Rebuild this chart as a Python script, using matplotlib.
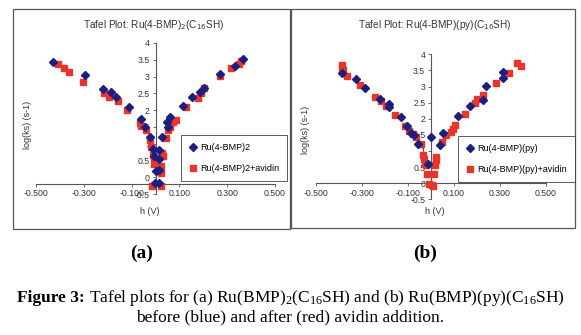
import numpy as np
import matplotlib
matplotlib.use("Agg")
import matplotlib.pyplot as plt
from matplotlib.patches import Rectangle
from matplotlib.lines import Line2D

# panel (a): Ru(4-BMP)2 before / after avidin
a_blue_h = [-0.427, -0.293, -0.218, -0.186, -0.165, -0.112, -0.060, -0.042, -0.022,
            -0.011, -0.008, -0.004, 0.000, 0.014, 0.013, 0.014, 0.016,
            0.028, 0.047, 0.052, 0.059, 0.115, 0.152, 0.187, 0.205, 0.271, 0.331, 0.366]
a_blue_v = [3.44, 3.04, 2.64, 2.53, 2.38, 2.09, 1.74, 1.51, 1.20,
            0.84, 0.62, -0.17, 0.19, -0.17, 0.82, 0.55, 0.22,
            1.20, 1.64, 1.51, 1.78, 2.11, 2.39, 2.53, 2.67, 3.08, 3.30, 3.51]
a_red_h = [-0.406, -0.384, -0.360, -0.302, -0.216, -0.193, -0.158, -0.119, -0.064,
           -0.060, -0.039, -0.022, -0.018, -0.011, -0.008, -0.008, -0.014,
           0.021, 0.021, 0.024, 0.028, 0.031, 0.045, 0.052, 0.059, 0.073, 0.084,
           0.128, 0.177, 0.190, 0.203, 0.271, 0.317, 0.349, 0.359]
a_red_v = [3.38, 3.25, 3.15, 2.85, 2.50, 2.38, 2.26, 2.01, 1.61,
           1.54, 1.42, 1.12, 0.89, 0.67, 0.57, 0.40, -0.27,
           -0.27, 0.13, 0.33, 0.72, 0.62, 1.17, 1.42, 1.49, 1.66, 1.71,
           2.09, 2.36, 2.50, 2.65, 3.02, 3.26, 3.38, 3.45]

# panel (b): Ru(4-BMP)(py) before / after avidin
b_blue_h = [-0.384, -0.326, -0.286, -0.221, -0.180, -0.182, -0.130, -0.105, -0.086,
            -0.073, -0.054, -0.011, 0.000, 0.040, 0.051, 0.119, 0.170, 0.228,
            0.239, 0.315, 0.315]
b_blue_v = [3.43, 3.23, 2.96, 2.60, 2.47, 2.35, 2.06, 1.77, 1.56,
            1.49, 1.23, 0.60, 1.43, 1.17, 1.56, 2.08, 2.39, 2.58,
            3.01, 3.46, 3.28]
b_red_h = [-0.387, -0.384, -0.380, -0.363, -0.308, -0.242, -0.216, -0.196, -0.156,
           -0.112, -0.093, -0.079, -0.064, -0.044, -0.033, -0.030, -0.025, -0.021,
           -0.015, -0.007, 0.004, 0.011, 0.015, 0.018, 0.022, 0.022, 0.047, 0.066,
           0.086, 0.098, 0.105, 0.148, 0.192, 0.199, 0.225, 0.281, 0.341, 0.373, 0.390]
b_red_v = [3.67, 3.58, 3.51, 3.34, 3.06, 2.68, 2.55, 2.39, 2.11,
           1.77, 1.62, 1.54, 1.43, 1.21, 0.86, 0.76, 0.60, 0.55,
           0.29, -0.04, -0.07, -0.10, 0.29, 0.55, 0.73, 0.81, 1.28, 1.49,
           1.59, 1.69, 1.80, 2.16, 2.49, 2.60, 2.73, 3.10, 3.43, 3.72, 3.64]

x_ticks = [-0.5, -0.3, -0.1, 0.1, 0.3, 0.5]
y_ticks = [-0.5, 0, 0.5, 1, 1.5, 2, 2.5, 3, 3.5, 4]

BLUE = "#1c1f7e"
RED = "#e8352c"
W, H = 581, 335

plt.rcParams["mathtext.fontset"] = "custom"
plt.rcParams["mathtext.rm"] = "Liberation Serif"
plt.rcParams["mathtext.it"] = "Liberation Serif:italic"
plt.rcParams["mathtext.bf"] = "Liberation Serif:bold"

fig = plt.figure(figsize=(W / 100, H / 100), dpi=100)
fig.patch.set_facecolor("white")


def fx(x):
    return x / W


def fy(y):
    return 1 - y / H


def add_panel(box, ax_box, cross, title, xl_pos, yl_pos, leg_box,
              bh, bv, rh, rv, blue_name, red_name):
    x0, y0, x1, y1 = box
    fig.patches.append(Rectangle((fx(x0), fy(y1)), fx(x1 - x0), (y1 - y0) / H,
                                 transform=fig.transFigure, fill=False,
                                 edgecolor="#555555", lw=0.9))
    ax0, ay0, ax1, ay1 = ax_box
    ax = fig.add_axes([fx(ax0), fy(ay1), fx(ax1 - ax0), (ay1 - ay0) / H])
    ax.set_xlim(-0.5, 0.5)
    ax.set_ylim(-0.5, 4)
    ax.patch.set_alpha(0)
    for s in ("top", "right"):
        ax.spines[s].set_visible(False)
    ax.spines["left"].set_position(("data", 0))
    ax.spines["bottom"].set_position(("data", cross))
    for s in ("left", "bottom"):
        ax.spines[s].set_color("#555555")
        ax.spines[s].set_linewidth(0.8)
    ax.set_xticks(x_ticks)
    ax.set_xticklabels(["%.3f" % t for t in x_ticks])
    ax.set_yticks(y_ticks)
    ax.set_yticklabels(["%g" % t for t in y_ticks])
    ax.tick_params(labelsize=6.3, length=2, width=0.6, color="#555555",
                   pad=2, labelcolor="#333333")
    for lab in ax.get_xticklabels() + ax.get_yticklabels():
        lab.set_family("Liberation Sans")
    ax.plot(bh, bv, ls="none", marker="D", ms=3.6, color=BLUE, zorder=4)
    ax.plot(rh, rv, ls="none", marker="s", ms=4.7, color=RED, zorder=3)

    # chart title uses sans font, so keep mathtext in sans there
    fig.text(fx((x0 + x1) / 2 + 2), fy(25), title, ha="center", va="center",
             fontsize=7.2, family="Liberation Sans", color="#333333")
    fig.text(fx(xl_pos[0]), fy(xl_pos[1]), "h (V)", ha="center", va="center",
             fontsize=6.5, family="Liberation Sans", color="#333333")
    fig.text(fx(yl_pos[0]), fy(yl_pos[1]), "log(ks) (s-1)", ha="center",
             va="center", rotation=90, fontsize=6.5, family="Liberation Sans",
             color="#333333")

    lx0, ly0, lx1, ly1 = leg_box
    handles = [Line2D([], [], ls="none", marker="D", ms=3.6, color=BLUE),
               Line2D([], [], ls="none", marker="s", ms=4.7, color=RED)]
    leg = fig.legend(handles, [blue_name, red_name],
                     loc="upper left", bbox_to_anchor=(fx(lx0), fy(ly0)),
                     prop={"family": "Liberation Sans", "size": 6.5},
                     frameon=True, fancybox=False, handlelength=0.8,
                     handletextpad=0.4, labelspacing=1.3, borderpad=0.9,
                     borderaxespad=0)
    leg.get_frame().set_edgecolor("#333333")
    leg.get_frame().set_linewidth(0.7)
    return ax


add_panel((13, 9, 290, 229), (36, 43, 275, 194), -0.2,
          r"Tafel Plot: Ru(4-BMP)$_\mathsf{2}$(C$_\mathsf{16}$SH)", (150, 211), (27, 125),
          (181, 135, 286, 167), a_blue_h, a_blue_v, a_red_h, a_red_v,
          "Ru(4-BMP)2", "Ru(4-BMP)2+avidin")
add_panel((291, 9, 575, 228), (315.7, 54.3, 546, 199.3), 0.0,
          r"Tafel Plot: Ru(4-BMP)(py)(C$_\mathsf{16}$SH)", (435, 212), (305, 130),
          (458, 136, 563, 168), b_blue_h, b_blue_v, b_red_h, b_red_v,
          "Ru(4-BMP)(py)", "Ru(4-BMP)(py)+avidin")

fig.text(fx(142), fy(253), "(a)", ha="center", va="center", fontsize=14,
         family="Liberation Serif", weight="bold")
fig.text(fx(425), fy(253), "(b)", ha="center", va="center", fontsize=14,
         family="Liberation Serif", weight="bold")

# caption: bold lead-in followed by regular text
cap_size = 12.5
t_bold = fig.text(fx(17), fy(298), "Figure 3:", ha="left", va="center",
                  fontsize=cap_size, family="Liberation Serif", weight="bold")
fig.canvas.draw()
bb = t_bold.get_window_extent()
fig.text(fx(bb.x1 + 4), fy(298),
         r"Tafel plots for (a) Ru(BMP)$_2$(C$_{16}$SH) and (b) Ru(BMP)(py)(C$_{16}$SH)",
         ha="left", va="center", fontsize=cap_size, family="Liberation Serif")
fig.text(fx(290), fy(317), "before (blue) and after (red) avidin addition.",
         ha="center", va="center", fontsize=cap_size, family="Liberation Serif")

fig.savefig("out.png", dpi=100)
